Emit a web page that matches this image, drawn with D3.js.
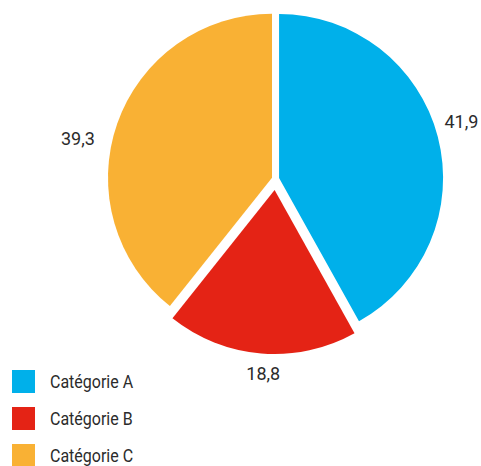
<!DOCTYPE html>
<html>
<head>
<meta charset="utf-8">
<script src="https://cdn.jsdelivr.net/npm/d3@7"></script>
<style>
  html, body { margin: 0; padding: 0; background: #fff; }
  svg { display: block; }
  text { font-family: Roboto, "Noto Sans", "DejaVu Sans", sans-serif; fill: #2b2b2b; }
</style>
</head>
<body>
<svg id="chart" width="481" height="466"></svg>
<script>
// Shares per category (percent)
const categories = ["Catégorie A", "Catégorie B", "Catégorie C"];
const values = [41.9, 18.8, 39.3];
const valueLabels = ["41,9", "18,8", "39,3"];
const colors = ["#00b0ea", "#e42315", "#f9b134"];

// Layout
const W = 481, H = 466;
const cx = 275.5, cy = 179, radius = 164;
const explode = [3.7, 11, 3.7];          // outward shift of each slice
const labelGap = 12;
const labelAnchor = ["start", "middle", "end"];
const labelNudge = [[-5, -6], [3, 15], [-11, 25]];

const svg = d3.select("#chart");

const pie = d3.pie().sort(null).value(d => d)(values);
const arc = d3.arc().innerRadius(0).outerRadius(radius);

const dir = a => [Math.sin(a), -Math.cos(a)];

const g = svg.append("g").attr("transform", `translate(${cx},${cy})`);

pie.forEach((p, i) => {
  const mid = (p.startAngle + p.endAngle) / 2;
  const [dx, dy] = dir(mid);
  const ox = dx * explode[i], oy = dy * explode[i];

  g.append("path")
    .attr("d", arc(p))
    .attr("fill", colors[i])
    .attr("transform", `translate(${ox},${oy})`);

  const lr = radius + labelGap;
  const lx = ox + dx * lr + labelNudge[i][0];
  const ly = oy + dy * lr + labelNudge[i][1];
  g.append("text")
    .attr("x", lx)
    .attr("y", ly)
    .attr("text-anchor", labelAnchor[i])
    .style("font-size", "18px")
    .text(valueLabels[i]);
});

// Legend
const legend = svg.append("g").attr("transform", "translate(12,370)");
const step = 37, sw = 23;
categories.forEach((c, i) => {
  const row = legend.append("g").attr("transform", `translate(0,${i * step})`);
  row.append("rect")
    .attr("width", sw).attr("height", sw)
    .attr("fill", colors[i]);
  row.append("text")
    .attr("transform", `translate(38,${sw / 2 + 6.5}) scale(0.89,1)`)
    .style("font-size", "18px")
    .text(c);
});
</script>
</body>
</html>
